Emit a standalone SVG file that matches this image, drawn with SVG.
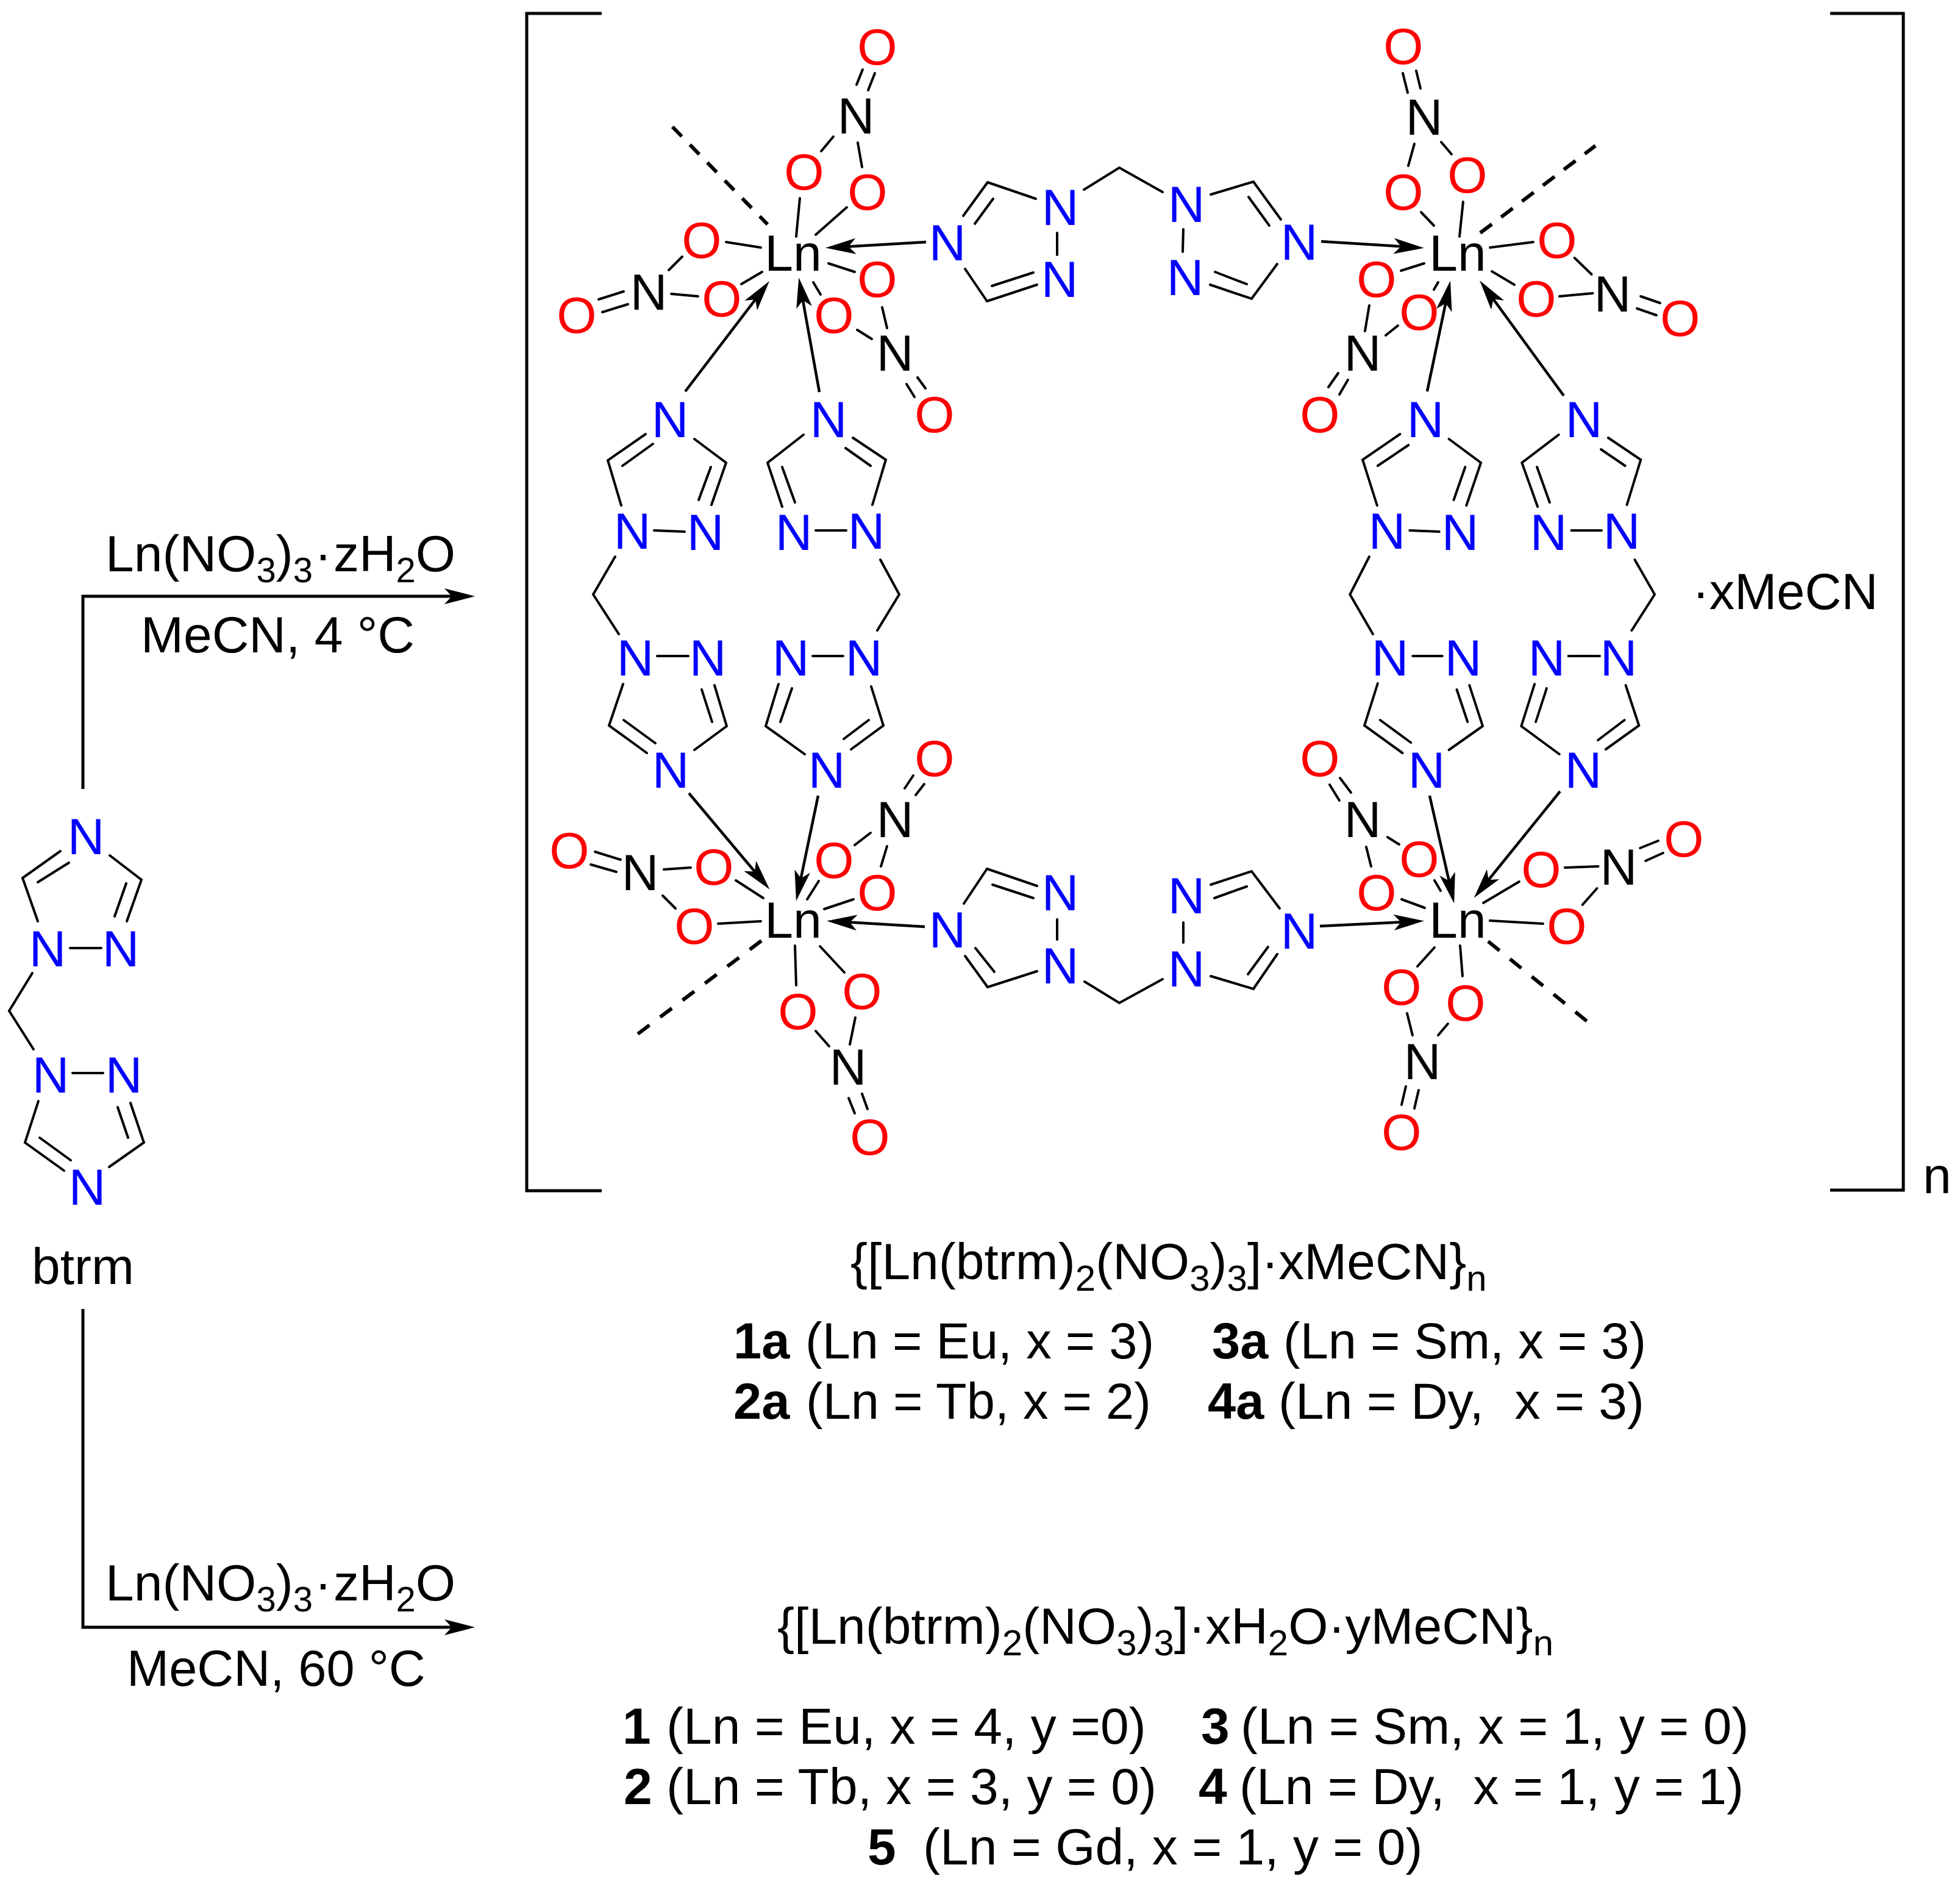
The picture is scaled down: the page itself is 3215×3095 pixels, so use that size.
<svg xmlns="http://www.w3.org/2000/svg" width="3215" height="3095" viewBox="0 0 3215 3095">
<style>
text{font-family:"Liberation Sans",Arial,sans-serif;font-size:84px;fill:#000}
.a{text-anchor:middle}
.N{fill:#0000ff}
.O{fill:#ff0000}
.b{font-weight:bold}
.l{font-size:83px}
path{fill:none;stroke:#000;stroke-width:4;stroke-linecap:round;stroke-linejoin:miter}
.ar{stroke-width:4.5;stroke-linecap:butt;marker-end:url(#head)}
.rx{stroke-width:5;stroke-linecap:butt;marker-end:url(#head)}
.br{stroke-width:5;stroke-linecap:butt}
.da{stroke-width:6;stroke-linecap:butt}
</style>
<defs>
<marker id="head" markerUnits="userSpaceOnUse" markerWidth="60" markerHeight="30" refX="40" refY="15" orient="auto"><polygon points="50,15 0,2 12,15 0,28" fill="#000"/></marker>
</defs>
<rect width="3215" height="3095" fill="#fff"/>
<g id="connectors">
<g id="brackets">
<path class="br" d="M987,22H864V1953H987"/>
<path class="br" d="M3002,22H3122V1952H3002"/>
</g>
<g id="reaction-arrows">
<path class="rx" d="M136,1294V978H769"/>
<path class="rx" d="M136,2147V2669H769"/>
</g>
<g id="btrm-bonds">
<path d="M99,1396L37,1440L62,1511"/><path d="M113,1415L62,1447"/>
<path d="M180,1403L232,1443L208,1511"/><path d="M207,1449L188,1503"/>
<path d="M115,1555H166"/>
<path d="M53,1596L15,1658L55,1721"/>
<path d="M119,1760H169"/>
<path d="M63,1806L41,1874L105,1920"/><path d="M65,1866L116,1903"/>
<path d="M179,1914L236,1874L214,1809"/><path d="M210,1866L193,1816"/>
</g>
<g id="bridge-joins">
<path d="M1620,299L1699,326"/><path d="M1619,494L1701,467"/><path d="M1627,469L1695,447"/>
<path d="M1619,1425L1701,1453"/><path d="M1628,1451L1695,1473"/><path d="M1701,1593L1620,1619"/>
</g>
<g id="left-centres">
<path d="M1415,114L1405,139"/><path d="M1435,120L1424,148"/>
<path d="M1367,224L1347,248"/><path d="M1407,234L1414,274"/>
<path d="M1312,325L1306,388"/><path d="M1389,340L1338,385"/>
<path class="da" stroke-dasharray="22 19" d="M1103,208L1259,368"/>
<path d="M1191,397L1248,406"/><path d="M1119,421L1097,443"/><path d="M1101,482L1145,486"/><path d="M1216,466L1250,446"/>
<path d="M982,491L1023,478"/><path d="M988,512L1030,499"/>
<path class="ar" d="M1124,642L1256,469"/><path class="ar" d="M1344,643L1312,465"/><path class="ar" d="M1519,397L1364,406"/>
<path d="M1359,432L1402,446"/><path d="M1334,463L1346,483"/>
<path d="M1447,504L1455,538"/><path d="M1406,541L1430,556"/>
<path d="M1505,619L1518,637"/><path d="M1487,630L1500,651"/>
<path d="M1580,354L1620,299"/><path d="M1629,326L1599,367"/><path d="M1583,441L1619,494"/>
<path class="ar" d="M1130,1301L1256,1451"/><path class="ar" d="M1342,1305L1308,1468"/>
<path d="M1498,1272L1484,1293"/><path d="M1516,1286L1502,1304"/>
<path d="M1428,1366L1402,1386"/><path d="M1455,1388L1445,1421"/>
<path d="M1343,1445L1324,1475"/><path d="M1400,1475L1352,1491"/>
<path class="ar" d="M1517,1520L1366,1511"/>
<path d="M976,1397L1018,1410"/><path d="M969,1418L1011,1430"/>
<path d="M1089,1426L1133,1423"/><path d="M1087,1469L1108,1490"/>
<path d="M1207,1444L1252,1473"/><path d="M1178,1515L1248,1511"/>
<path class="da" stroke-dasharray="24 22" d="M1249,1543L1046,1696"/>
<path d="M1304,1551L1306,1616"/><path d="M1345,1552L1385,1595"/>
<path d="M1403,1669L1394,1713"/><path d="M1338,1691L1360,1716"/>
<path d="M1392,1801L1402,1826"/><path d="M1414,1794L1423,1819"/>
<path d="M1581,1482L1619,1425"/><path d="M1583,1568L1620,1619"/><path d="M1600,1555L1631,1594"/>
</g>
<g id="right-centres">
<path d="M1734,382V418"/>
<path d="M1778,311L1836,275L1907,315"/>
<path d="M1941,376L1940,413"/>
<path d="M1986,319L2056,298L2101,360"/><path d="M2048,323L2082,370"/>
<path d="M2095,433L2053,490L1985,467"/><path d="M2045,466L1993,446"/>
<path class="ar" d="M2167,396L2326,406"/>
<path d="M2301,120L2309,152"/><path d="M2323,116L2330,145"/>
<path d="M2320,236L2310,272"/><path d="M2364,233L2381,253"/>
<path d="M2331,348L2352,370"/><path d="M2400,331L2394,388"/>
<path class="da" stroke-dasharray="24 19" d="M2428,382L2617,239"/>
<path d="M2444,406L2515,397"/>
<path d="M2447,445L2484,467"/>
<path d="M2336,432L2298,444"/>
<path d="M2359,463L2352,475"/><path d="M2246,501L2239,543"/><path d="M2293,534L2273,550"/>
<path d="M2195,612L2179,635"/><path d="M2211,623L2197,647"/>
<path class="ar" d="M2341,642L2377,470"/><path class="ar" d="M2565,649L2433,468"/>
<path d="M1734,1508V1541"/>
<path d="M1779,1610L1836,1645L1907,1606"/>
<path d="M1941,1513V1546"/>
<path d="M1986,1451L2053,1429L2099,1490"/><path d="M1992,1473L2045,1454"/>
<path d="M2095,1565L2056,1622L1986,1601"/><path d="M2080,1553L2047,1598"/>
<path class="ar" d="M2165,1519L2326,1511"/>
<path d="M2198,1276L2216,1300"/><path d="M2181,1287L2197,1313"/>
<path d="M2276,1373L2295,1385"/><path d="M2241,1389L2249,1421"/>
<path d="M2299,1475L2337,1489"/><path d="M2353,1444L2363,1461"/>
<path class="ar" d="M2345,1305L2383,1472"/><path class="ar" d="M2559,1298L2424,1465"/>
<path d="M2433,1481L2492,1446"/>
<path d="M2444,1510L2531,1515"/>
<path class="da" stroke-dasharray="24 22" d="M2441,1544L2603,1675"/>
<path d="M2353,1554L2325,1585"/><path d="M2395,1551L2399,1601"/>
<path d="M2308,1662L2317,1698"/><path d="M2375,1679L2359,1698"/>
<path d="M2306,1782L2299,1812"/><path d="M2327,1788L2320,1818"/>
</g>
<g id="right-nitrates" transform="matrix(.99449 0 0 1 4.1 0)">
<path d="M2593,423L2621,450"/><path d="M2568,486L2623,481"/>
<path d="M2702,486L2734,497"/><path d="M2696,506L2728,517"/>
<path d="M2577,1423L2632,1421"/><path d="M2606,1484L2630,1457"/>
<path d="M2701,1391L2731,1379"/><path d="M2710,1412L2739,1399"/>
</g>
<g id="left-ligands">
<path d="M1059,712L997,755L1019,829"/><path d="M1071,728L1021,764"/>
<path d="M1139,720L1191,759L1167,828"/><path d="M1166,766L1146,820"/>
<path d="M1073,870L1123,872"/>
<path d="M1009,913L973,975L1015,1040"/>
<path d="M1078,1076H1129"/>
<path d="M1022,1122L999,1190L1061,1235"/><path d="M1023,1181L1075,1219"/>
<path d="M1139,1230L1192,1191L1172,1124"/><path d="M1168,1184L1151,1131"/>
<path d="M1318,713L1259,759L1283,831"/><path d="M1283,766L1304,824"/>
<path d="M1338,870H1388"/>
<path d="M1399,718L1453,754L1431,828"/><path d="M1387,735L1428,764"/>
<path d="M1444,918L1475,975L1439,1034"/>
<path d="M1333,1076H1383"/>
<path d="M1277,1122L1256,1191L1320,1237"/><path d="M1299,1129L1280,1184"/>
<path d="M1429,1126L1449,1190L1396,1229"/><path d="M1425,1181L1384,1212"/>
</g>
<g id="right-ligands" transform="matrix(.98973 0 0 1 17.13 0)">
<path d="M2303,712L2241,754L2265,829"/><path d="M2317,730L2266,764"/>
<path d="M2319,870L2368,872"/>
<path d="M2384,720L2437,759L2413,829"/><path d="M2411,766L2392,820"/>
<path d="M2252,913L2220,975L2258,1040"/>
<path d="M2324,1076H2373"/>
<path d="M2266,1121L2244,1190L2307,1235"/><path d="M2270,1181L2321,1218"/>
<path d="M2384,1230L2440,1191L2418,1124"/><path d="M2415,1184L2397,1131"/>
<path d="M2566,713L2505,759L2531,831"/><path d="M2530,766L2551,824"/>
<path d="M2587,870H2637"/>
<path d="M2648,718L2702,754L2679,828"/><path d="M2636,737L2676,764"/>
<path d="M2692,918L2725,975L2687,1034"/>
<path d="M2582,1076H2634"/>
<path d="M2526,1122L2504,1191L2567,1237"/><path d="M2546,1129L2528,1184"/>
<path d="M2677,1124L2699,1190L2644,1229"/><path d="M2675,1181L2631,1214"/>
</g>
</g>
<g id="lnTL"><text class="a" x="1301" y="444">Ln</text></g>
<g id="lnTR"><text class="a" x="2391" y="444">Ln</text></g>
<g id="lnBL"><text class="a" x="1301" y="1538">Ln</text></g>
<g id="lnBR"><text class="a" x="2391" y="1538">Ln</text></g>
<g id="tlO1"><text class="a O" x="1439" y="106">O</text></g>
<g id="tlN1"><text class="a" x="1404" y="219">N</text></g>
<g id="tlO2"><text class="a O" x="1319" y="311">O</text></g>
<g id="tlO3"><text class="a O" x="1423" y="344">O</text></g>
<g id="tlO4"><text class="a O" x="1151" y="423">O</text></g>
<g id="tlN2"><text class="a" x="1064" y="508">N</text></g>
<g id="tlO5"><text class="a O" x="1184" y="519">O</text></g>
<g id="tlO6"><text class="a O" x="946" y="546">O</text></g>
<g id="tlO7"><text class="a O" x="1439" y="487">O</text></g>
<g id="tlO8"><text class="a O" x="1368" y="546">O</text></g>
<g id="tlN3"><text class="a" x="1468" y="608">N</text></g>
<g id="tlO9"><text class="a O" x="1533" y="709">O</text></g>
<g id="trO1"><text class="a O" x="2302" y="105">O</text></g>
<g id="trN1"><text class="a" x="2336" y="221">N</text></g>
<g id="trO2"><text class="a O" x="2302" y="344">O</text></g>
<g id="trO3"><text class="a O" x="2407" y="316">O</text></g>
<g id="trO4"><text class="a O" x="2554" y="423">O</text></g>
<g id="trN2"><text class="a" x="2645" y="511">N</text></g>
<g id="trO5"><text class="a O" x="2520" y="519">O</text></g>
<g id="trO6"><text class="a O" x="2756" y="551">O</text></g>
<g id="trO7"><text class="a O" x="2258" y="487">O</text></g>
<g id="trO8"><text class="a O" x="2328" y="541">O</text></g>
<g id="trN3"><text class="a" x="2235" y="608">N</text></g>
<g id="trO9"><text class="a O" x="2165" y="709">O</text></g>
<g id="blO1"><text class="a O" x="1533" y="1273">O</text></g>
<g id="blN1"><text class="a" x="1468" y="1373">N</text></g>
<g id="blO2"><text class="a O" x="1368" y="1440">O</text></g>
<g id="blO3"><text class="a O" x="1439" y="1493">O</text></g>
<g id="blO4"><text class="a O" x="934" y="1424">O</text></g>
<g id="blN2"><text class="a" x="1050" y="1460">N</text></g>
<g id="blO5"><text class="a O" x="1171" y="1451">O</text></g>
<g id="blO6"><text class="a O" x="1139" y="1548">O</text></g>
<g id="blO7"><text class="a O" x="1309" y="1688">O</text></g>
<g id="blO8"><text class="a O" x="1414" y="1655">O</text></g>
<g id="blN3"><text class="a" x="1391" y="1779">N</text></g>
<g id="blO9"><text class="a O" x="1427" y="1894">O</text></g>
<g id="brO1"><text class="a O" x="2165" y="1273">O</text></g>
<g id="brN1"><text class="a" x="2235" y="1373">N</text></g>
<g id="brO2"><text class="a O" x="2328" y="1438">O</text></g>
<g id="brO3"><text class="a O" x="2258" y="1493">O</text></g>
<g id="brO4"><text class="a O" x="2528" y="1455">O</text></g>
<g id="brN2"><text class="a" x="2655" y="1451">N</text></g>
<g id="brO5"><text class="a O" x="2762" y="1405">O</text></g>
<g id="brO6"><text class="a O" x="2570" y="1548">O</text></g>
<g id="brO7"><text class="a O" x="2299" y="1648">O</text></g>
<g id="brO8"><text class="a O" x="2404" y="1674">O</text></g>
<g id="brN3"><text class="a" x="2333" y="1770">N</text></g>
<g id="brO9"><text class="a O" x="2299" y="1886">O</text></g>
<g id="tbN1"><text class="a N" x="1554" y="427">N</text></g>
<g id="tbN2"><text class="a N" x="1739" y="369">N</text></g>
<g id="tbN3"><text class="a N" x="1738" y="487">N</text></g>
<g id="tbN4"><text class="a N" x="1946" y="364">N</text></g>
<g id="tbN5"><text class="a N" x="1944" y="484">N</text></g>
<g id="tbN6"><text class="a N" x="2131" y="426">N</text></g>
<g id="bbN1"><text class="a N" x="1554" y="1554">N</text></g>
<g id="bbN2"><text class="a N" x="1739" y="1493">N</text></g>
<g id="bbN3"><text class="a N" x="1739" y="1613">N</text></g>
<g id="bbN4"><text class="a N" x="1946" y="1498">N</text></g>
<g id="bbN5"><text class="a N" x="1946" y="1618">N</text></g>
<g id="bbN6"><text class="a N" x="2131" y="1556">N</text></g>
<g id="lcN1"><text class="a N" x="1099" y="717">N</text></g>
<g id="lcN2"><text class="a N" x="1037" y="900">N</text></g>
<g id="lcN3"><text class="a N" x="1157" y="902">N</text></g>
<g id="lcN4"><text class="a N" x="1042" y="1108">N</text></g>
<g id="lcN5"><text class="a N" x="1161" y="1108">N</text></g>
<g id="lcN6"><text class="a N" x="1100" y="1292">N</text></g>
<g id="mcN1"><text class="a N" x="1359" y="717">N</text></g>
<g id="mcN2"><text class="a N" x="1302" y="902">N</text></g>
<g id="mcN3"><text class="a N" x="1421" y="900">N</text></g>
<g id="mcN4"><text class="a N" x="1297" y="1108">N</text></g>
<g id="mcN5"><text class="a N" x="1417" y="1108">N</text></g>
<g id="mcN6"><text class="a N" x="1356" y="1292">N</text></g>
<g id="ncN1"><text class="a N" x="2338" y="717">N</text></g>
<g id="ncN2"><text class="a N" x="2275" y="900">N</text></g>
<g id="ncN3"><text class="a N" x="2395" y="902">N</text></g>
<g id="ncN4"><text class="a N" x="2280" y="1108">N</text></g>
<g id="ncN5"><text class="a N" x="2400" y="1108">N</text></g>
<g id="ncN6"><text class="a N" x="2340" y="1292">N</text></g>
<g id="rcN1"><text class="a N" x="2598" y="717">N</text></g>
<g id="rcN2"><text class="a N" x="2540" y="902">N</text></g>
<g id="rcN3"><text class="a N" x="2660" y="900">N</text></g>
<g id="rcN4"><text class="a N" x="2537" y="1108">N</text></g>
<g id="rcN5"><text class="a N" x="2655" y="1108">N</text></g>
<g id="rcN6"><text class="a N" x="2597" y="1292">N</text></g>
<g id="liN1"><text class="a N" x="141" y="1401">N</text></g>
<g id="liN2"><text class="a N" x="78" y="1585">N</text></g>
<g id="liN3"><text class="a N" x="198" y="1585">N</text></g>
<g id="liN4"><text class="a N" x="83" y="1792">N</text></g>
<g id="liN5"><text class="a N" x="203" y="1792">N</text></g>
<g id="liN6"><text class="a N" x="143" y="1976">N</text></g>
<g id="labels">
<text x="52" y="2106">btrm</text>
<text x="173" y="937">Ln(NO<tspan font-size="58" dy="18">3</tspan><tspan dy="-18">)</tspan><tspan font-size="58" dy="18">3</tspan><tspan dy="-18" dx="3">·</tspan><tspan dx="3">zH</tspan><tspan font-size="58" dy="18">2</tspan><tspan dy="-18">O</tspan></text>
<text x="231" y="1070">MeCN, 4 °C</text>
<text x="173" y="2625">Ln(NO<tspan font-size="58" dy="18">3</tspan><tspan dy="-18">)</tspan><tspan font-size="58" dy="18">3</tspan><tspan dy="-18" dx="3">·</tspan><tspan dx="3">zH</tspan><tspan font-size="58" dy="18">2</tspan><tspan dy="-18">O</tspan></text>
<text class="l" x="208" y="2765">MeCN, 60 °C</text>
<text class="l" x="2776" y="999">·xMeCN</text>
<text x="3154" y="1957">n</text>
<text x="1395" y="2098">{[Ln(btrm)<tspan font-size="60" dy="19">2</tspan><tspan dy="-19">(NO</tspan><tspan font-size="60" dy="19">3</tspan><tspan dy="-19">)</tspan><tspan font-size="60" dy="19">3</tspan><tspan dy="-19">]·xMeCN}</tspan><tspan font-size="60" dy="19">n</tspan></text>
<text class="l" y="2228"><tspan class="b" x="1203">1a</tspan><tspan x="1321">(Ln = Eu, x = 3)</tspan></text>
<text class="l" y="2228"><tspan class="b" x="1988">3a</tspan><tspan x="2105">(Ln = Sm, x = 3)</tspan></text>
<text class="l" y="2327"><tspan class="b" x="1203">2a</tspan><tspan x="1322">(Ln = Tb, x = 2)</tspan></text>
<text y="2327"><tspan class="b" font-size="83" x="1981">4a</tspan><tspan x="2097">(Ln = Dy,&#160;</tspan><tspan dx="4"> x = 3)</tspan></text>
<text x="1275" y="2696">{[Ln(btrm)<tspan font-size="60" dy="19">2</tspan><tspan dy="-19">(NO</tspan><tspan font-size="60" dy="19">3</tspan><tspan dy="-19">)</tspan><tspan font-size="60" dy="19">3</tspan><tspan dy="-19">]·xH</tspan><tspan font-size="60" dy="19">2</tspan><tspan dy="-19">O·yMeCN}</tspan><tspan font-size="60" dy="19">n</tspan></text>
<text y="2860"><tspan class="b" x="1021">1</tspan><tspan x="1093">(Ln = Eu, x = 4, y =0)</tspan></text>
<text y="2860"><tspan class="b" x="1970">3</tspan><tspan x="2035">(Ln = Sm, x = 1, y = 0)</tspan></text>
<text y="2959"><tspan class="b" x="1023">2</tspan><tspan x="1093">(Ln = Tb, x = 3, y = 0)</tspan></text>
<text y="2959"><tspan class="b" x="1966">4</tspan><tspan x="2033">(Ln = Dy,&#160; x = 1, y = 1)</tspan></text>
<text y="3058"><tspan class="b" x="1423">5</tspan><tspan x="1514">(Ln = Gd, x = 1, y = 0)</tspan></text>
</g>
</svg>
